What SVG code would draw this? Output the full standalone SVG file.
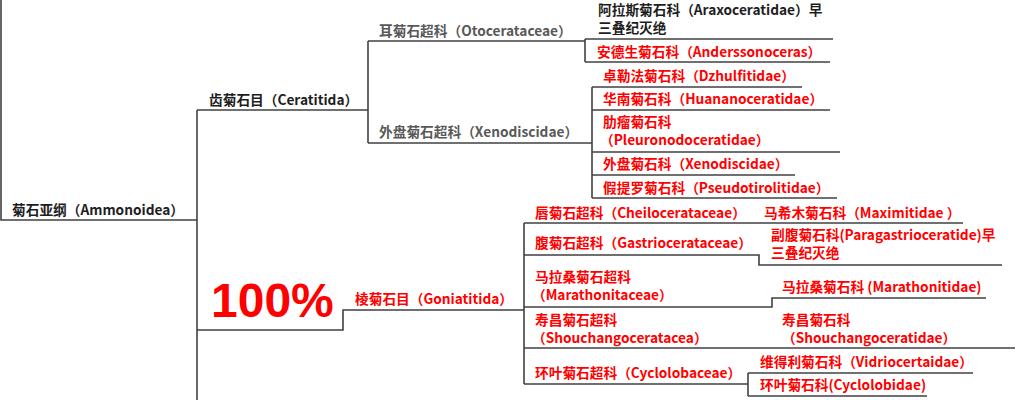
<svg xmlns="http://www.w3.org/2000/svg" width="1035" height="400" viewBox="0 0 1035 400">
<style>
text{font-family:"Noto Sans CJK SC","Liberation Sans",sans-serif;font-weight:bold;font-size:13.7px}
.dk{fill:#1e1e1e}
.gy{fill:#595959}
.rd{fill:#ff0000}
.big{font-family:"Liberation Sans",Arial,sans-serif;font-size:48px;fill:#ff0000}
#connectors path{fill:none;stroke:#404040;stroke-width:1.6}
</style>
<rect width="1035" height="400" fill="#ffffff"/>
<g id="connectors">
<path d="M1,0 V220 H197"/>
<path d="M197,110 V400"/>
<path d="M197,110 H368"/>
<path d="M368,41 V143"/>
<path d="M368,41 H585"/>
<path d="M368,143 H592"/>
<path d="M585,39 V62"/>
<path d="M585,39 H833"/>
<path d="M585,62 H830"/>
<path d="M592,87 V198"/>
<path d="M592,87 H802"/>
<path d="M592,110 H830"/>
<path d="M592,152 H840"/>
<path d="M592,175 H795"/>
<path d="M592,198 H837"/>
<path d="M197,330 H343 V310 H524"/>
<path d="M524,223 V384"/>
<path d="M524,223 H963"/>
<path d="M524,255 H759 V265 H1002"/>
<path d="M524,307 H772 V298 H986"/>
<path d="M524,348 H1015"/>
<path d="M524,384 H748"/>
<path d="M748,373 V396"/>
<path d="M748,373 H973"/>
<path d="M748,396 H927"/>
</g>
<g id="ammonoidea"><text class="dk" x="12" y="215">菊石亚纲（Ammonoidea）</text></g>
<g id="ceratitida"><text class="dk" x="209" y="105">齿菊石目（Ceratitida）</text></g>
<g id="otocerataceae"><text class="gy" x="379" y="36">耳菊石超科（Otocerataceae）</text></g>
<g id="xenodiscidae-super"><text class="gy" x="379" y="137">外盘菊石超科（Xenodiscidae）</text></g>
<g id="araxoceratidae"><text class="dk" x="598" y="15">阿拉斯菊石科（Araxoceratidae）早<tspan x="598" y="33">三叠纪灭绝</tspan></text></g>
<g id="anderssonoceras"><text class="rd" x="597" y="57">安德生菊石科（Anderssonoceras）</text></g>
<g id="dzhulfitidae"><text class="rd" x="603" y="81">卓勒法菊石科（Dzhulfitidae）</text></g>
<g id="huananoceratidae"><text class="rd" x="603" y="104">华南菊石科（Huananoceratidae）</text></g>
<g id="pleuronodoceratidae"><text class="rd" x="603" y="127">肋瘤菊石科<tspan x="600" y="145">（Pleuronodoceratidae）</tspan></text></g>
<g id="xenodiscidae"><text class="rd" x="603" y="169">外盘菊石科（Xenodiscidae）</text></g>
<g id="pseudotirolitidae"><text class="rd" x="603" y="193">假提罗菊石科（Pseudotirolitidae）</text></g>
<g id="goniatitida"><text class="rd" x="355" y="304">棱菊石目（Goniatitida）</text></g>
<g id="percent"><text class="big" x="211" y="317">100%</text></g>
<g id="cheilocerataceae"><text class="rd" x="535" y="218">唇菊石超科（Cheilocerataceae）</text></g>
<g id="maximitidae"><text class="rd" x="764" y="218">马希木菊石科（Maximitidae ）</text></g>
<g id="gastriocerataceae"><text class="rd" x="535" y="248">腹菊石超科（Gastriocerataceae）</text></g>
<g id="paragastrioceratide"><text class="rd" x="771" y="240">副腹菊石科(Paragastrioceratide)早<tspan x="771" y="258">三叠纪灭绝</tspan></text></g>
<g id="marathonitaceae"><text class="rd" x="535" y="282">马拉桑菊石超科<tspan x="532" y="300">（Marathonitaceae）</tspan></text></g>
<g id="marathonitidae"><text class="rd" x="782" y="292">马拉桑菊石科 (Marathonitidae)</text></g>
<g id="shouchangoceratacea"><text class="rd" x="535" y="325">寿昌菊石超科<tspan x="532" y="343">（Shouchangoceratacea）</tspan></text></g>
<g id="shouchangoceratidae"><text class="rd" x="782" y="325">寿昌菊石科<tspan x="782" y="343">（Shouchangoceratidae）</tspan></text></g>
<g id="cyclolobaceae"><text class="rd" x="535" y="378">环叶菊石超科（Cyclolobaceae）</text></g>
<g id="vidriocertaidae"><text class="rd" x="760" y="367">维得利菊石科（Vidriocertaidae）</text></g>
<g id="cyclolobidae"><text class="rd" x="760" y="390">环叶菊石科(Cyclolobidae)</text></g>
</svg>
